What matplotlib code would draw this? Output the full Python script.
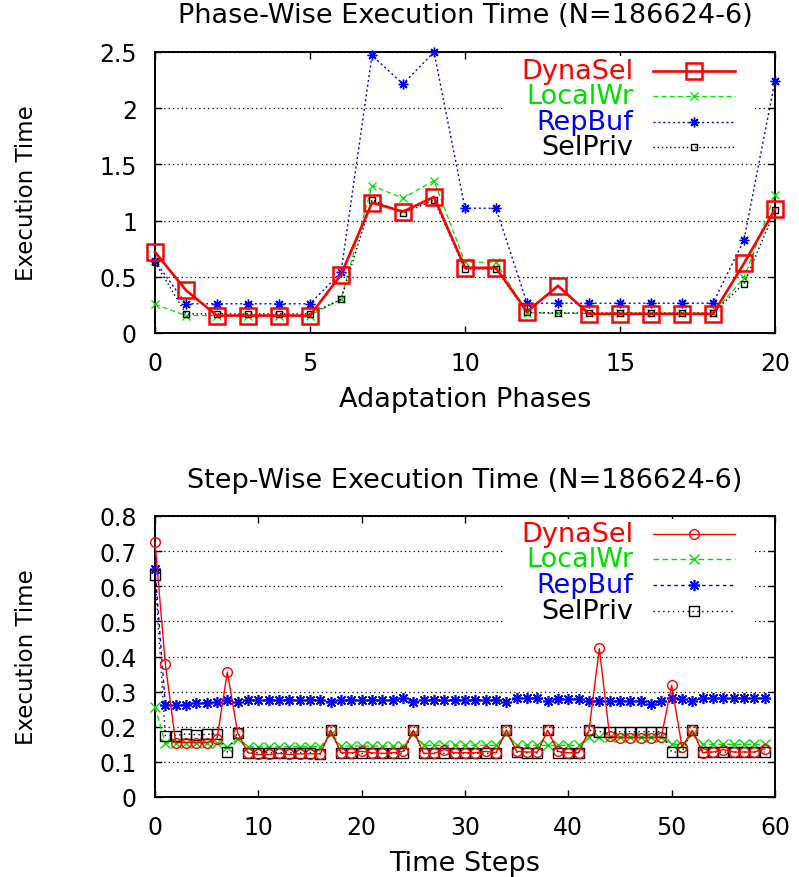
import matplotlib
matplotlib.use("Agg")
import matplotlib.pyplot as plt
from matplotlib.patches import Rectangle
from matplotlib.ticker import FuncFormatter

# ---------------- data ----------------
phases = list(range(21))
dynasel_phase = [0.72, 0.38, 0.155, 0.155, 0.155, 0.155, 0.52, 1.16, 1.08, 1.21, 0.58,
                 0.58, 0.19, 0.42, 0.17, 0.17, 0.17, 0.17, 0.17, 0.62, 1.10]
localwr_phase = [0.255, 0.155, 0.155, 0.155, 0.155, 0.155, 0.30, 1.31, 1.20, 1.355, 0.63,
                 0.63, 0.18, 0.175, 0.175, 0.175, 0.175, 0.175, 0.175, 0.49, 1.23]
repbuf_phase = [0.64, 0.26, 0.26, 0.26, 0.26, 0.26, 0.54, 2.47, 2.215, 2.50, 1.11,
                1.11, 0.265, 0.265, 0.265, 0.265, 0.265, 0.265, 0.265, 0.83, 2.245]
selpriv_phase = [0.63, 0.17, 0.17, 0.17, 0.17, 0.17, 0.30, 1.186, 1.065, 1.183, 0.57,
                 0.57, 0.184, 0.178, 0.178, 0.178, 0.178, 0.178, 0.178, 0.44, 1.09]

steps = list(range(60))
dynasel_step = [0.725, 0.379, 0.155, 0.155, 0.155, 0.155, 0.166, 0.356, 0.183, 0.126,
                0.121, 0.121, 0.124, 0.121, 0.123, 0.123, 0.123, 0.19, 0.126, 0.126,
                0.13, 0.126, 0.124, 0.126, 0.13, 0.19, 0.124, 0.124, 0.135, 0.126,
                0.126, 0.126, 0.13, 0.126, 0.19, 0.13, 0.128, 0.128, 0.19, 0.13,
                0.126, 0.126, 0.19, 0.423, 0.173, 0.169, 0.169, 0.169, 0.169, 0.171,
                0.318, 0.143, 0.19, 0.126, 0.128, 0.135, 0.128, 0.128, 0.128, 0.137]
localwr_step = [0.257, 0.153, 0.155, 0.155, 0.155, 0.155, 0.155, 0.143, 0.164, 0.143,
                0.143, 0.143, 0.143, 0.143, 0.143, 0.143, 0.143, 0.178, 0.145, 0.145,
                0.145, 0.145, 0.145, 0.145, 0.145, 0.178, 0.147, 0.147, 0.147, 0.147,
                0.147, 0.147, 0.147, 0.147, 0.18, 0.147, 0.147, 0.147, 0.147, 0.147,
                0.147, 0.147, 0.17, 0.17, 0.17, 0.17, 0.17, 0.17, 0.17, 0.17,
                0.152, 0.147, 0.178, 0.15, 0.15, 0.15, 0.15, 0.15, 0.15, 0.15]
repbuf_step = [0.65, 0.262, 0.262, 0.262, 0.268, 0.268, 0.271, 0.276, 0.27, 0.276,
               0.276, 0.276, 0.276, 0.276, 0.276, 0.276, 0.276, 0.27, 0.276, 0.276,
               0.276, 0.276, 0.276, 0.276, 0.281, 0.27, 0.277, 0.277, 0.277, 0.277,
               0.277, 0.277, 0.277, 0.277, 0.27, 0.281, 0.281, 0.281, 0.274, 0.28,
               0.28, 0.28, 0.272, 0.273, 0.273, 0.273, 0.273, 0.273, 0.264, 0.273,
               0.282, 0.28, 0.274, 0.281, 0.281, 0.281, 0.281, 0.281, 0.281, 0.281]
selpriv_step = [0.633, 0.175, 0.175, 0.18, 0.177, 0.178, 0.18, 0.128, 0.183, 0.126,
                0.126, 0.126, 0.126, 0.126, 0.126, 0.126, 0.122, 0.19, 0.124, 0.124,
                0.124, 0.124, 0.124, 0.124, 0.124, 0.19, 0.124, 0.124, 0.124, 0.124,
                0.124, 0.124, 0.124, 0.124, 0.19, 0.128, 0.126, 0.126, 0.19, 0.126,
                0.126, 0.126, 0.19, 0.186, 0.186, 0.186, 0.186, 0.186, 0.186, 0.186,
                0.128, 0.128, 0.19, 0.128, 0.128, 0.128, 0.128, 0.128, 0.128, 0.128]

series_names = ["DynaSel", "LocalWr", "RepBuf", "SelPriv"]
series_colors = ["#ff0000", "#00dd00", "#0000ff", "#000000"]

top_title = "Phase-Wise Execution Time (N=186624-6)"
bot_title = "Step-Wise Execution Time (N=186624-6)"
top_xlabel = "Adaptation Phases"
bot_xlabel = "Time Steps"
ylabel = "Execution Time"
top_xticks = [0, 5, 10, 15, 20]
top_yticks = [0, 0.5, 1, 1.5, 2, 2.5]
bot_xticks = [0, 10, 20, 30, 40, 50, 60]
bot_yticks = [0, 0.1, 0.2, 0.3, 0.4, 0.5, 0.6, 0.7, 0.8]

# ---------------- style ----------------
plt.rcParams['font.family'] = ['DejaVu Sans']
TICK_FS = 17
XLABEL_FS = 19.5
YLABEL_FS = 16.5
TITLE_FS = 19.5
LEG_FS = 19.5

ASTER = (8, 2, 0)

top_styles = [
    dict(ls='-', lw=1.9, marker='s', ms=11, mfc='none', mew=1.8),
    dict(ls=(0, (4, 2.5)), lw=0.9, marker='x', ms=5.5, mew=0.9),
    dict(ls=(0, (1.5, 2)), lw=1.0, marker=ASTER, ms=7, mew=1.0),
    dict(ls=(0, (1, 2)), lw=1.0, marker='s', ms=5, mfc='none', mew=1.0),
]
bot_styles = [
    dict(ls='-', lw=1.0, marker='o', ms=7, mfc='none', mew=1.0),
    dict(ls=(0, (4, 2.5)), lw=1.0, marker='x', ms=7, mew=1.0),
    dict(ls=(0, (2.5, 2.5)), lw=1.0, marker=ASTER, ms=8, mew=1.2),
    dict(ls=(0, (1, 2.5)), lw=1.0, marker='s', ms=7, mfc='none', mew=1.0),
]

fig = plt.figure(figsize=(7.99, 8.78), dpi=100)
W, H = 799.0, 878.0


def make_axes(left, top, right, bottom):
    return fig.add_axes([left / W, 1 - bottom / H, (right - left) / W, (bottom - top) / H])


ax1 = make_axes(155, 53, 775, 334)
ax2 = make_axes(155, 517, 775, 798)


def fmt(v, pos):
    return "%g" % v


def style_axes(ax, xticks, yticks, title, xlabel, title_pad):
    ax.set_xticks(xticks)
    ax.set_yticks(yticks)
    ax.set_xlim(xticks[0], xticks[-1])
    ax.set_ylim(yticks[0], yticks[-1])
    ax.yaxis.set_major_formatter(FuncFormatter(fmt))
    ax.xaxis.set_major_formatter(FuncFormatter(fmt))
    ax.tick_params(direction='in', length=5, width=1, top=True, right=True,
                   labelsize=TICK_FS)
    ax.tick_params(axis='x', pad=13)
    ax.tick_params(axis='y', pad=13)
    for s in ax.spines.values():
        s.set_linewidth(1.4)
    ax.set_axisbelow(True)
    ax.yaxis.grid(True, color='black', linestyle=(0, (1, 2.5)), linewidth=0.9)
    ax.set_title(title, fontsize=TITLE_FS, pad=title_pad)
    ax.set_xlabel(xlabel, fontsize=XLABEL_FS, va='baseline')
    ax.xaxis.set_label_coords(0.5, -73.5 / 281.0)
    ax.set_ylabel(ylabel, fontsize=YLABEL_FS, va='center')
    ax.yaxis.set_label_coords((27 - 155) / 620.0, 0.5)


def draw_key(ax, styles, box_y0, box_y1, rows_y):
    ax.add_patch(Rectangle((0.561, box_y0), 0.968 - 0.561, box_y1 - box_y0,
                           transform=ax.transAxes, facecolor='white',
                           edgecolor='none', zorder=2.5))
    for name, col, st, ry in zip(series_names, series_colors, styles, rows_y):
        ax.text(0.771, ry, name, color=col, fontsize=LEG_FS, ha='right',
                va='center', transform=ax.transAxes, zorder=5)
        ax.plot([0.803, 0.935], [ry, ry], color=col, ls=st['ls'], lw=st['lw'],
                transform=ax.transAxes, zorder=5, clip_on=False)
        mk = {k: v for k, v in st.items() if k in ('marker', 'ms', 'mfc', 'mew')}
        ax.plot([0.869], [ry], color=col, ls='none', transform=ax.transAxes,
                zorder=5, clip_on=False, **mk)


order = [3, 2, 1, 0]
zorders = {0: 7, 1: 4, 2: 5, 3: 6}

# top chart
top_data = [dynasel_phase, localwr_phase, repbuf_phase, selpriv_phase]
for i in order:
    ax1.plot(phases, top_data[i], color=series_colors[i], zorder=zorders[i],
             clip_on=False, **top_styles[i])
style_axes(ax1, top_xticks, top_yticks, top_title, top_xlabel, 21.5)
draw_key(ax1, top_styles, 0.625, 0.985, [0.932, 0.843, 0.751, 0.662])

# bottom chart
bot_data = [dynasel_step, localwr_step, repbuf_step, selpriv_step]
for i in order:
    ax2.plot(steps, bot_data[i], color=series_colors[i], zorder=zorders[i],
             clip_on=False, **bot_styles[i])
style_axes(ax2, bot_xticks, bot_yticks, bot_title, bot_xlabel, 21)
draw_key(ax2, bot_styles, 0.598, 0.989, [0.936, 0.847, 0.754, 0.662])

fig.savefig("out.png", dpi=100)
